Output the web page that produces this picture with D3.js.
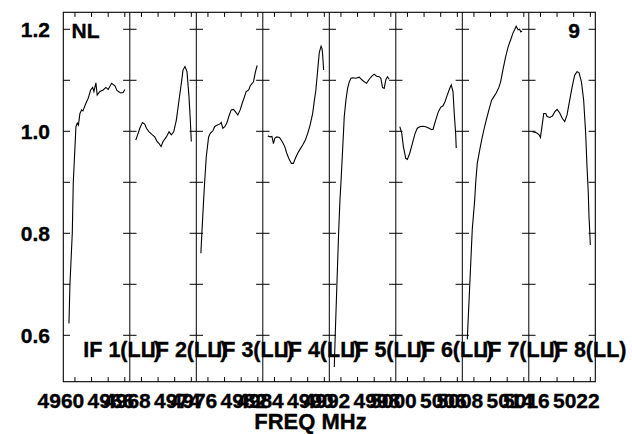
<!DOCTYPE html>
<html><head><meta charset="utf-8">
<script src="https://cdn.jsdelivr.net/npm/d3@7"></script>
<style>
body{margin:0;background:#fff}
svg{display:block}
text{font-family:"Liberation Sans",Arial,Helvetica,sans-serif;font-weight:bold;fill:#000;stroke:#000;stroke-width:0.35px}
</style>
</head><body>
<svg id="c" width="632" height="434"></svg>
<script>
// ---------- data ----------
const ifNames = ["IF 1(LL)","IF 2(LL)","IF 3(LL)","IF 4(LL)","IF 5(LL)","IF 6(LL)","IF 7(LL)","IF 8(LL)"];
const ifStart = [4958.6, 4966.6, 4974.6, 4982.6, 4990.6, 4998.6, 5006.6, 5014.6]; // MHz
const ifWidth = 8; // MHz per IF
const xTickLabels = [[4960,4966],[4968,4974],[4976,4982],[4984,4990],[4992,4998],[5000,5006],[5008,5014],[5016,5022]];
const yTicks = [0.6,0.7,0.8,0.9,1.0,1.1,1.2];
const yTickLabels = [0.6,0.8,1.0,1.2];
const yDomain = [0.509, 1.2333];
const xLabel = "FREQ MHz";
const polLabel = "NL";
const plotNumber = "9";

// frequency offset within IF (MHz) and amplitude per IF
const off1 = [0.68,0.80,1.08,1.20,1.52,1.68,1.82,2.00,2.21,2.36,2.72,3.00,3.29,3.53,3.68,3.92,4.08,4.40,4.80,5.12,5.40,5.81,6.21,6.45,6.89,7.20,7.40];
const amp1 = [0.623,0.700,0.800,0.899,1.009,1.016,1.012,1.035,1.042,1.040,1.055,1.065,1.081,1.086,1.078,1.095,1.071,1.078,1.081,1.086,1.082,1.094,1.089,1.080,1.075,1.076,1.082];
const off2 = [0.72,1.00,1.20,1.52,1.80,2.00,2.32,2.72,3.00,3.28,3.52,3.76,4.00,4.40,4.72,5.00,5.28,5.60,5.92,6.20,6.40,6.64,6.88,7.12,7.28,7.40];
const amp2 = [0.983,0.996,1.006,1.017,1.014,1.006,0.999,0.993,0.989,0.980,0.976,0.970,0.980,0.989,0.999,0.993,0.999,1.022,1.061,1.094,1.120,1.127,1.117,1.068,1.022,0.980];
const off3 = [0.55,0.67,0.88,1.00,1.20,1.48,1.68,2.00,2.20,2.47,2.80,3.00,3.19,3.43,3.67,3.91,4.20,4.48,4.72,4.99,5.28,5.52,5.80,6.00,6.31,6.48,6.72,6.88,7.00,7.12,7.32];
const amp3 = [0.761,0.800,0.865,0.899,0.950,0.989,0.996,1.001,1.009,1.012,1.014,1.017,1.006,1.009,1.016,1.029,1.042,1.043,1.038,1.032,1.042,1.055,1.068,1.078,1.081,1.089,1.094,1.097,1.107,1.117,1.129];
const off4 = [0.60,0.89,1.10,1.28,1.44,1.68,2.00,2.33,2.64,2.88,3.20,3.44,3.68,3.92,4.20,4.49,4.80,5.12,5.40,5.69,6.00,6.20,6.38,6.60,6.80,7.01,7.13,7.20,7.32];
const amp4 = [0.991,0.989,0.990,0.976,0.986,0.989,0.988,0.980,0.970,0.957,0.944,0.937,0.937,0.947,0.957,0.965,0.973,0.983,0.996,1.012,1.035,1.060,1.080,1.120,1.155,1.167,1.162,1.150,1.120];
const off5 = [0.60,0.72,0.92,1.12,1.28,1.40,1.60,1.80,2.00,2.20,2.40,2.60,2.80,3.20,3.60,3.92,4.20,4.48,4.80,5.12,5.40,5.68,6.00,6.20,6.40,6.60,6.80,7.00,7.20];
const amp5 = [0.538,0.604,0.702,0.800,0.865,0.899,0.963,1.029,1.061,1.084,1.097,1.104,1.105,1.104,1.106,1.101,1.097,1.094,1.102,1.108,1.112,1.108,1.107,1.104,1.086,1.084,1.101,1.107,1.102];
const off6 = [0.48,0.72,0.91,1.20,1.39,1.68,1.99,2.32,2.59,2.88,3.19,3.60,4.00,4.32,4.48,4.80,5.11,5.40,5.68,5.92,6.19,6.48,6.67,6.88,7.03,7.20,7.27];
const amp6 = [1.009,0.996,0.970,0.947,0.945,0.957,0.976,0.996,1.006,1.009,1.010,1.009,1.006,1.003,1.004,1.022,1.038,1.047,1.050,1.058,1.071,1.084,1.091,1.078,1.035,0.996,0.967];
const off7 = [0.60,1.20,1.49,1.61,1.80,2.09,2.33,2.60,2.88,3.20,3.53,3.80,4.08,4.40,4.61,4.88,5.21,5.52,5.81,6.08,6.32,6.48,6.72,6.89,7.04,7.20];
const amp7 = [0.592,0.808,0.865,0.899,0.937,0.963,0.983,1.003,1.022,1.042,1.061,1.068,1.075,1.086,1.097,1.120,1.146,1.166,1.179,1.192,1.200,1.206,1.199,1.200,1.195,1.197];
const off8 = [0.44,0.92,1.24,1.40,1.64,1.80,2.04,2.20,2.52,2.84,3.12,3.40,3.72,4.04,4.32,4.60,4.92,5.24,5.52,5.80,6.04,6.33,6.60,6.84,7.00,7.16,7.24,7.32,7.40];
const amp8 = [0.999,0.997,0.993,0.988,1.016,1.035,1.035,1.029,1.027,1.030,1.038,1.043,1.036,1.025,1.019,1.032,1.061,1.089,1.110,1.117,1.115,1.097,1.061,0.996,0.931,0.878,0.833,0.808,0.777];

const offsets = [off1,off2,off3,off4,off5,off6,off7,off8];
const amps = [amp1,amp2,amp3,amp4,amp5,amp6,amp7,amp8];

// ---------- layout ----------
const L = 63.3, R = 595.3, T = 12.3, B = 381.7;
const nP = ifNames.length;
const svg = d3.select("#c");

const y = d3.scaleLinear().domain(yDomain).range([B, T]);
const band = d3.scaleBand().domain(d3.range(nP)).range([L, R]).paddingInner(0).paddingOuter(0);

const g = svg.append("g");

// frame
g.append("rect").attr("x", L).attr("y", T).attr("width", R - L).attr("height", B - T)
  .attr("fill", "none").attr("stroke", "#000").attr("stroke-width", 1.1);

const tickLen = 6.7, xTickLen = 4.6;

ifNames.forEach((name, i) => {
  const x0 = band(i), x1 = x0 + band.bandwidth();
  const x = d3.scaleLinear().domain([ifStart[i], ifStart[i] + ifWidth]).range([x0, x1]);
  if (i > 0) {
    g.append("line").attr("x1", x0).attr("x2", x0).attr("y1", T).attr("y2", B)
      .attr("stroke", "#000").attr("stroke-width", 1);
  }
  yTicks.forEach(v => {
    const yy = y(v);
    g.append("line").attr("x1", x0).attr("x2", x0 + tickLen).attr("y1", yy).attr("y2", yy).attr("stroke", "#000").attr("stroke-width", 1);
    g.append("line").attr("x1", x1 - tickLen).attr("x2", x1).attr("y1", yy).attr("y2", yy).attr("stroke", "#000").attr("stroke-width", 1);
  });
  const xt = d3.range(Math.ceil(ifStart[i] / 2) * 2, ifStart[i] + ifWidth, 2);
  xt.forEach(f => {
    const xx = x(f);
    g.append("line").attr("x1", xx).attr("x2", xx).attr("y1", T).attr("y2", T + xTickLen).attr("stroke", "#000").attr("stroke-width", 1);
    g.append("line").attr("x1", xx).attr("x2", xx).attr("y1", B).attr("y2", B - xTickLen).attr("stroke", "#000").attr("stroke-width", 1);
  });
  xTickLabels[i].forEach(f => {
    g.append("text").attr("x", x(f) - 14).attr("y", 408).attr("text-anchor", "middle")
      .attr("font-size", 21).text(f);
  });
  const pts = offsets[i].map((o, k) => [ifStart[i] + o, amps[i][k]]);
  const line = d3.line().x(d => x(d[0])).y(d => y(d[1]));
  g.append("path").attr("d", line(pts)).attr("fill", "none").attr("stroke", "#000").attr("stroke-width", 1.1);
  g.append("text").attr("x", x0 + 20).attr("y", 357).attr("font-size", 21.5).text(name);
});

yTickLabels.forEach(v => {
  g.append("text").attr("x", 50).attr("y", y(v) + 7.6).attr("text-anchor", "end")
    .attr("font-size", 21).text(d3.format(".1f")(v));
});

g.append("text").attr("x", 71.5).attr("y", 38.3).attr("font-size", 21).text(polLabel);
g.append("text").attr("x", 580).attr("y", 38.3).attr("text-anchor", "end").attr("font-size", 21).text(plotNumber);

g.append("text").attr("x", 310.5).attr("y", 429).attr("text-anchor", "middle").attr("font-size", 22).text(xLabel);
</script>
</body></html>
